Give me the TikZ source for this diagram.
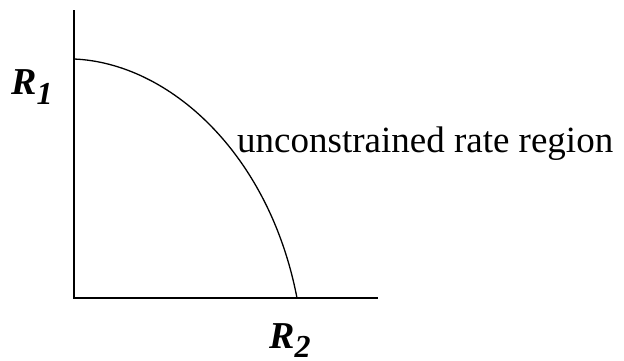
\documentclass[tikz,border=0pt]{standalone}
\usepackage{fontspec}
\setmainfont{Liberation Serif}
\usetikzlibrary{positioning}

\begin{document}
\begin{tikzpicture}[x=1pt, y=1pt,
    axis/.style={draw=black, line width=2pt},
    boundary/.style={draw=black, line width=1.3pt},
    ratelabel/.style={inner sep=0pt, anchor=base west, font=\fontsize{38}{38}\selectfont\bfseries\itshape},
    regionlabel/.style={inner sep=0pt, anchor=base west, font=\fontsize{37}{37}\selectfont}]

    \useasboundingbox (0,0) rectangle (624,360);

    % axes
    \coordinate (origin) at (74,62);
    \coordinate (ytop) at (74,350);
    \coordinate (xend) at (378,62);
    \coordinate (r1max) at (74,301);
    \coordinate (r2max) at (297,62);

    \draw[axis] (ytop) -- (origin) -- (xend);
    \draw[boundary] (r1max) .. controls (169,297) and (269,207) .. (r2max);

    % labels
    \node[ratelabel] (r1) at (11,266) {R\raisebox{-10pt}{\fontsize{32}{32}\selectfont 1}};
    \node[ratelabel] (r2) at (269,12) {R\raisebox{-9pt}{\fontsize{32}{32}\selectfont 2}};
    \node[regionlabel] (region) at (237,208) {unconstrained rate region};
\end{tikzpicture}
\end{document}
